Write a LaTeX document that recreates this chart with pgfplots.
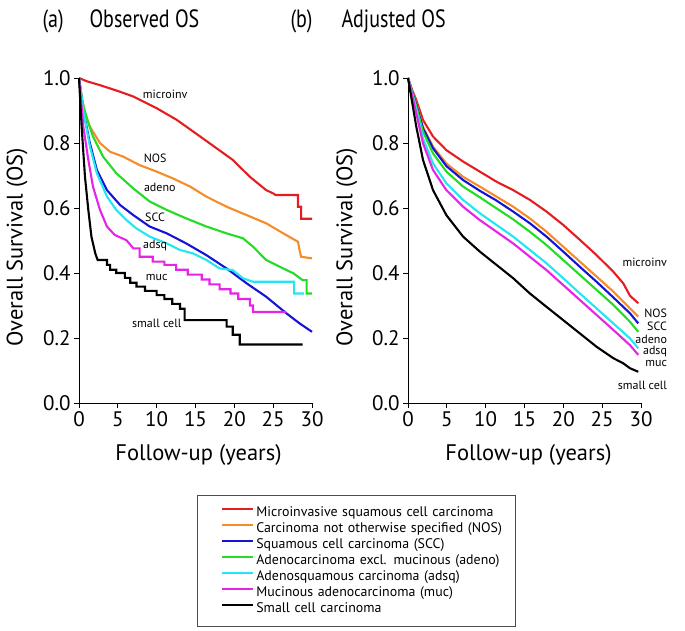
\documentclass[border=0pt]{standalone}
\usepackage{pgfplots}
\pgfplotsset{compat=1.18}
\usepackage{fontspec}
\setmainfont{PT Sans}
\newfontfamily\titlefont[FakeStretch=0.8]{PT Sans}

\definecolor{cRed}{RGB}{228,30,32}
\definecolor{cOrange}{RGB}{245,140,40}
\definecolor{cBlue}{RGB}{20,20,215}
\definecolor{cGreen}{RGB}{35,220,35}
\definecolor{cCyan}{RGB}{35,230,240}
\definecolor{cMag}{RGB}{230,35,230}

\tikzset{lab/.style={font=\fontsize{12}{13}\selectfont, inner sep=1pt}}
\pgfplotsset{
  kmaxis/.style={
    scale only axis, width=233pt, height=325pt,
    xmin=0, xmax=30, ymin=0, ymax=1,
    axis lines*=left,
    xtick={0,5,...,30}, ytick={0,0.2,0.4,0.6,0.8,1.0},
    yticklabel style={/pgf/number format/fixed,
      /pgf/number format/fixed zerofill, /pgf/number format/precision=1},
    /pgf/number format/assume math mode=true,
    tick align=outside, major tick length=5pt,
    tick style={black, line width=0.9pt},
    axis line style={line width=0.9pt},
    tick label style={font=\fontsize{21}{24}\selectfont},
    label style={font=\fontsize{22.5}{26}\selectfont},
    xlabel={Follow-up (years)}, ylabel={Overall Survival (OS)},
    clip=false,
    every axis plot/.append style={line width=2.1pt},
  },
}

\begin{document}
\begin{tikzpicture}
\useasboundingbox (0,0) rectangle (685pt,630pt);

\node[anchor=base west, font=\titlefont\fontsize{25}{28}\selectfont] at (39pt,602pt) {(a)};
\node[anchor=base west, font=\titlefont\fontsize{25}{28}\selectfont] at (86pt,602pt) {Observed OS};
\node[anchor=base west, font=\titlefont\fontsize{25}{28}\selectfont] at (287pt,602pt) {(b)};
\node[anchor=base west, font=\titlefont\fontsize{25}{28}\selectfont] at (338pt,602pt) {Adjusted OS};

% (a) observed
\begin{axis}[kmaxis, at={(79pt,227pt)}, anchor=south west,
  xlabel style={at={(axis description cs:0.513,-0.16)}, anchor=center},
  ylabel style={at={(axis description cs:-0.266,0.48)}, anchor=center},
  legend style={at={(0.506,-0.283)}, anchor=north west,
    draw=black!70, line width=0.8pt, inner xsep=11pt, inner ysep=9.75pt,
    font=\fontsize{13.9}{16}\selectfont, row sep=0.5pt,
    nodes={inner xsep=2pt, inner ysep=1pt, text height=10pt, text depth=3.5pt,
      text width=246pt, align=left},
    /tikz/every even column/.append style={column sep=3pt}},
  legend cell align=left,
  legend image code/.code={\path (0pt,4.3pt);
    \draw[#1, line width=2pt] (13pt,4.3pt) -- (44pt,4.3pt);},
]
\addplot[cRed] coordinates {(0,1.000)(1,0.990)(2.7,0.978)(5,0.960)(7,0.943)(10,0.907)(12.6,0.871)(15.6,0.820)(17.7,0.784)(19.8,0.748)(22,0.696)(24.1,0.655)(25,0.645)(25.3,0.640)(28.2,0.640)(28.2,0.604)(28.6,0.604)(28.6,0.567)(30,0.567)};
\addplot[cOrange] coordinates {(0,1.000)(0.3,0.950)(0.7,0.900)(1.4,0.850)(2.7,0.800)(4,0.773)(5.7,0.758)(7.8,0.732)(10,0.712)(12.1,0.691)(14.3,0.666)(16.4,0.635)(19,0.604)(21.6,0.578)(24.1,0.553)(26.3,0.522)(28.2,0.496)(28.4,0.470)(28.6,0.450)(30,0.445)};
\addplot[cBlue] coordinates {(0,1.000)(0.56,0.900)(1.4,0.800)(2.3,0.717)(3.6,0.655)(5.3,0.609)(7,0.578)(9.1,0.543)(11.3,0.522)(13.8,0.491)(16.4,0.455)(19,0.414)(21.6,0.368)(24.1,0.327)(26.7,0.276)(28.4,0.245)(30,0.219)};
\addplot[cGreen] coordinates {(0,1.000)(0.4,0.930)(1,0.876)(1.8,0.820)(3.1,0.758)(4.8,0.707)(7,0.660)(9.1,0.620)(11.3,0.594)(13.8,0.568)(16.4,0.543)(19,0.522)(21.1,0.507)(22.4,0.481)(24.1,0.440)(26.3,0.414)(27.6,0.399)(28.8,0.378)(29.3,0.378)(29.3,0.337)(30,0.337)};
\addplot[cCyan] coordinates {(0,1.000)(0.56,0.900)(1.4,0.790)(2.3,0.707)(3.6,0.635)(4.8,0.594)(6.1,0.563)(7.4,0.537)(9.1,0.512)(11.3,0.491)(13,0.471)(14.7,0.460)(16.4,0.440)(18.1,0.414)(19.8,0.409)(21.1,0.384)(22.4,0.373)(27.7,0.373)(27.7,0.337)(29,0.337)};
\addplot[cMag] coordinates {(0,1.000)(0.56,0.850)(1.2,0.748)(1.8,0.666)(2.7,0.594)(3.6,0.543)(4.6,0.517)(6.1,0.501)(7,0.476)(7.8,0.476)(7.8,0.450)(9.5,0.450)(9.5,0.435)(11,0.435)(11,0.425)(12.5,0.425)(12.5,0.410)(14,0.410)(14,0.395)(15.8,0.395)(15.8,0.380)(16.8,0.380)(16.8,0.365)(18.1,0.365)(18.1,0.350)(19.5,0.350)(19.5,0.337)(20.5,0.337)(20.5,0.320)(22,0.320)(22,0.300)(22.4,0.300)(22.4,0.280)(26.7,0.280)};
\addplot[black] coordinates {(0,1.000)(0.34,0.850)(0.77,0.696)(1.2,0.594)(1.6,0.512)(2.1,0.460)(2.4,0.440)(3.6,0.440)(3.6,0.425)(4,0.425)(4,0.410)(4.8,0.410)(4.8,0.400)(5.9,0.400)(5.9,0.385)(6.6,0.385)(6.6,0.370)(7.4,0.370)(7.4,0.358)(8.5,0.358)(8.5,0.345)(10,0.345)(10,0.332)(11,0.332)(11,0.320)(12,0.320)(12,0.305)(13,0.305)(13,0.290)(13.6,0.290)(13.6,0.255)(19,0.255)(19,0.235)(19.8,0.235)(19.8,0.210)(20.7,0.210)(20.7,0.180)(28.8,0.180)};
\legend{Microinvasive squamous cell carcinoma, Carcinoma not otherwise specified (NOS), Squamous cell carcinoma (SCC), Adenocarcinoma excl. mucinous (adeno), Adenosquamous carcinoma (adsq), Mucinous adenocarcinoma (muc), Small cell carcinoma}
\node[lab] at (axis cs:11.1,0.951) {microinv};
\node[lab] at (axis cs:9.8,0.754) {NOS};
\node[lab] at (axis cs:10.4,0.662) {adeno};
\node[lab] at (axis cs:9.8,0.572) {SCC};
\node[lab] at (axis cs:9.8,0.486) {adsq};
\node[lab] at (axis cs:10,0.385) {muc};
\node[lab] at (axis cs:10,0.246) {small cell};
\end{axis}

% (b) adjusted
\begin{axis}[kmaxis, at={(408pt,227pt)}, anchor=south west,
  xlabel style={at={(axis description cs:0.517,-0.16)}, anchor=center},
  ylabel style={at={(axis description cs:-0.262,0.48)}, anchor=center},
]
\addplot[cRed] coordinates {(0,1)(0.5,0.965)(1.07,0.932)(1.93,0.871)(3.22,0.820)(4.94,0.778)(7.09,0.743)(9.24,0.712)(11.39,0.681)(13.54,0.655)(15.69,0.625)(17.83,0.589)(19.98,0.548)(22.13,0.502)(24.28,0.455)(26.43,0.404)(27.72,0.368)(28.58,0.330)(29.65,0.307)};
\addplot[cOrange] coordinates {(0,1)(0.5,0.962)(1.07,0.922)(1.93,0.850)(3.22,0.789)(4.94,0.737)(7.09,0.696)(9.24,0.666)(11.39,0.635)(13.54,0.604)(15.69,0.568)(17.83,0.527)(19.98,0.481)(22.13,0.435)(24.28,0.389)(26.43,0.343)(28.58,0.291)(29.65,0.266)};
\addplot[cBlue] coordinates {(0,1)(0.5,0.960)(1.07,0.918)(1.93,0.845)(3.22,0.784)(4.94,0.729)(7.09,0.686)(9.24,0.653)(11.39,0.623)(13.54,0.589)(15.69,0.553)(17.83,0.512)(19.98,0.466)(22.13,0.419)(24.28,0.373)(26.43,0.325)(28.58,0.276)(29.65,0.245)};
\addplot[cGreen] coordinates {(0,1)(0.5,0.958)(1.07,0.912)(1.93,0.835)(3.22,0.768)(4.94,0.712)(7.09,0.666)(9.24,0.633)(11.39,0.599)(13.54,0.565)(15.69,0.527)(17.83,0.486)(19.98,0.440)(22.13,0.394)(24.28,0.348)(26.43,0.302)(28.58,0.250)(29.65,0.219)};
\addplot[cCyan] coordinates {(0,1)(0.5,0.955)(1.07,0.902)(1.93,0.814)(3.22,0.737)(4.94,0.676)(7.09,0.625)(9.24,0.584)(11.39,0.548)(13.54,0.512)(15.69,0.471)(17.83,0.430)(19.98,0.384)(22.13,0.337)(24.28,0.291)(26.43,0.245)(28.58,0.199)(29.65,0.168)};
\addplot[cMag] coordinates {(0,1)(0.5,0.950)(1.07,0.891)(1.93,0.799)(3.22,0.717)(4.94,0.655)(7.09,0.604)(9.24,0.563)(11.39,0.527)(13.54,0.491)(15.69,0.450)(17.83,0.409)(19.98,0.363)(22.13,0.317)(24.28,0.271)(26.43,0.225)(28.58,0.178)(29.65,0.148)};
\addplot[black] coordinates {(0,1)(0.5,0.930)(1.07,0.850)(1.93,0.748)(3.22,0.655)(4.94,0.578)(7.09,0.512)(9.24,0.466)(11.39,0.425)(13.54,0.384)(15.69,0.337)(17.83,0.296)(19.98,0.255)(22.13,0.214)(24.28,0.173)(26.43,0.138)(27.72,0.122)(28.58,0.107)(29.65,0.096)};
\node[lab, anchor=east] at (axis cs:33.5,0.434) {microinv};
\node[lab, anchor=east] at (axis cs:33.5,0.277) {NOS};
\node[lab, anchor=east] at (axis cs:33.5,0.236) {SCC};
\node[lab, anchor=east] at (axis cs:33.5,0.197) {adeno};
\node[lab, anchor=east] at (axis cs:33.5,0.158) {adsq};
\node[lab, anchor=east] at (axis cs:33.5,0.121) {muc};
\node[lab, anchor=east] at (axis cs:33.5,0.055) {small cell};
\end{axis}
\end{tikzpicture}
\end{document}
